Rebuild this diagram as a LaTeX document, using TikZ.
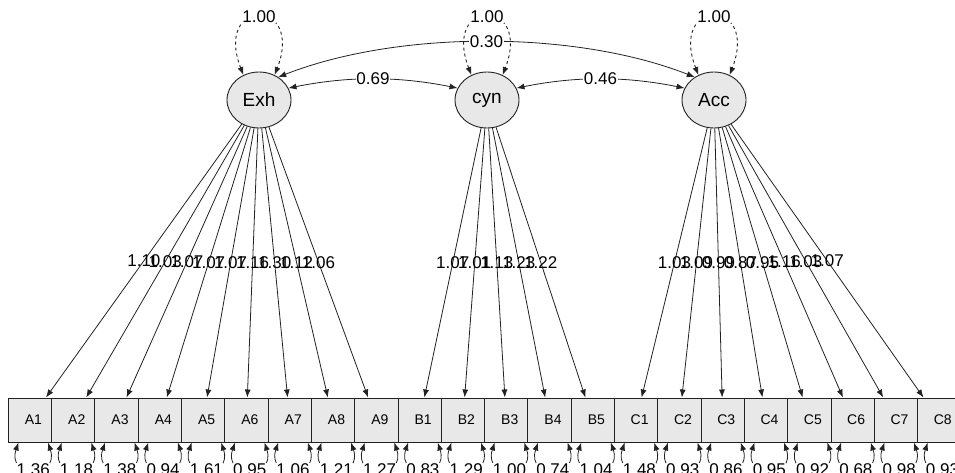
\documentclass[tikz,border=0pt]{standalone}
\usepackage{fontspec}
\setmainfont{Liberation Sans}
\usetikzlibrary{arrows.meta,shapes.geometric}
\definecolor{boxfill}{HTML}{E8E8E8}
\definecolor{ink}{HTML}{222222}
\begin{document}
\begin{tikzpicture}[x=1pt,y=-1pt,
  latent/.style={ellipse,draw=ink,line width=0.9pt,fill=boxfill,minimum width=64pt,minimum height=56pt,inner sep=0pt,font=\fontsize{19}{21}\selectfont},
  manifest/.style={rectangle,draw=ink,line width=1pt,fill=boxfill,minimum width=43.3pt,minimum height=44pt,inner sep=0pt},
  mlab/.style={font=\fontsize{14}{16}\selectfont,inner sep=0pt},
  num/.style={font=\fontsize{17}{19}\selectfont,inner sep=0.5pt},
  onetip/.style={-{Latex[length=8pt,width=6pt]}},
  twotip/.style={{Latex[length=8pt,width=6pt]}-{Latex[length=8pt,width=6pt]}},
  load/.style={onetip,line width=0.8pt,draw=ink},
  resid/.style={twotip,line width=0.8pt,draw=ink},
  selfloop/.style={twotip,dashed,line width=0.9pt,draw=ink},
  covar/.style={twotip,line width=0.8pt,draw=ink}
]
\useasboundingbox (0,0) rectangle (955,473);

% latent variables
\node[latent] (Exh) at (259,100) {Exh};
\node[latent] (cyn) at (487,100) {cyn};
\node[latent] (Acc) at (714,100) {Acc};

% manifest variables
\foreach \n [count=\i] in {A1,A2,A3,A4,A5,A6,A7,A8,A9,B1,B2,B3,B4,B5,C1,C2,C3,C4,C5,C6,C7,C8}
  \node[manifest,label={[mlab,xshift=3.5pt]center:\n}] (\n) at ({8.3+43.3*(\i-0.5)},420) {};

% loadings
\foreach \n/\v in {A1/1.10,A2/1.03,A3/1.07,A4/1.07,A5/1.07,A6/1.16,A7/1.30,A8/1.12,A9/1.06}
  \draw[load] (Exh) -- (\n) node[pos=0.5,num]{\v};
\foreach \n/\v in {B1/1.07,B2/1.01,B3/1.13,B4/1.23,B5/1.22}
  \draw[load] (cyn) -- (\n) node[pos=0.5,num]{\v};
\foreach \n/\v in {C1/1.03,C2/1.09,C3/0.99,C4/0.87,C5/0.95,C6/1.16,C7/1.03,C8/1.07}
  \draw[load] (Acc) -- (\n) node[pos=0.5,num]{\v};

% residual variances
\foreach \n/\v in {A1/1.36,A2/1.18,A3/1.38,A4/0.94,A5/1.61,A6/0.95,A7/1.06,A8/1.21,A9/1.27,B1/0.83,B2/1.29,B3/1.00,B4/0.74,B5/1.04,C1/1.48,C2/0.93,C3/0.86,C4/0.95,C5/0.92,C6/0.68,C7/0.98,C8/0.93}
  \draw[resid] ([xshift=-11.5pt]\n.south) .. controls +(-12,36) and +(12,36) .. ([xshift=18pt]\n.south) node[pos=0.5,num,fill=white]{\v};

% latent variances
\foreach \l in {Exh,cyn,Acc}
  \draw[selfloop] (\l.122) .. controls +(-30,-78) and +(30,-78) .. (\l.58) node[pos=0.5,num,fill=white]{1.00};

% covariances
\draw[covar] (Exh.22) .. controls +(60,-12) and +(-60,-12) .. (cyn.158) node[pos=0.5,num,fill=white]{0.69};
\draw[covar] (cyn.22) .. controls +(60,-12) and +(-60,-12) .. (Acc.158) node[pos=0.5,num,fill=white]{0.46};
\draw[covar] (Exh.50) .. controls +(120,-47) and +(-120,-47) .. (Acc.130) node[pos=0.5,num,fill=white]{0.30};
\end{tikzpicture}
\end{document}
